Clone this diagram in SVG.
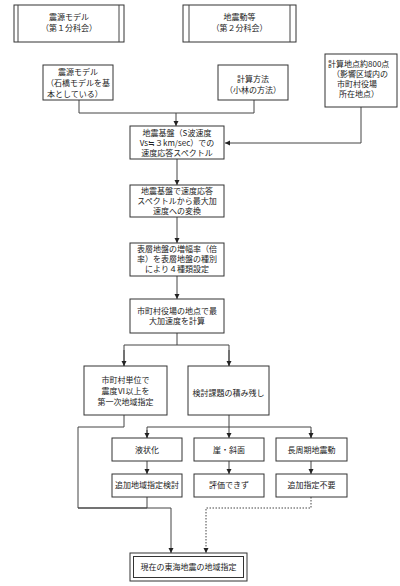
<svg xmlns="http://www.w3.org/2000/svg" width="400" height="586" viewBox="0 0 400 586">
<style>
.b{fill:#fff;stroke:#333;stroke-width:1}
.t{font-family:"Noto Sans CJK JP","Liberation Sans",sans-serif;font-size:8px;fill:#222;text-anchor:middle}
.s{text-anchor:start}
.c{fill:none;stroke:#444;stroke-width:1}
.d{stroke-dasharray:1.5,1.5}
.k{stroke-width:1.6}
</style>
<defs>
<marker id="a" markerWidth="6" markerHeight="6" refX="5" refY="3" orient="auto" markerUnits="userSpaceOnUse">
<path d="M0,0.5 L5,3 L0,5.5 z" fill="#222"/>
</marker>
</defs>
<rect width="400" height="586" fill="#fff"/>
<g id="connectors">
<polyline class="c" points="79,100 79,113 254,113 254,100"/>
<line class="c" x1="176" y1="113" x2="176" y2="126" marker-end="url(#a)"/>
<polyline class="c" points="361,107 361,143 225,143" marker-end="url(#a)"/>
<line class="c" x1="177" y1="159" x2="177" y2="185" marker-end="url(#a)"/>
<line class="c" x1="177" y1="217" x2="177" y2="243" marker-end="url(#a)"/>
<line class="c" x1="177" y1="276" x2="177" y2="299" marker-end="url(#a)"/>
<polyline class="c" points="177,333 177,345"/>
<polyline class="c" points="124,366 124,345 229,345 229,366"/>
<line class="c" x1="124" y1="350" x2="124" y2="366" marker-end="url(#a)"/>
<line class="c" x1="229" y1="350" x2="229" y2="366" marker-end="url(#a)"/>
<polyline class="c" points="229,415 229,427"/>
<polyline class="c" points="147,438 147,427 311,427 311,438"/>
<line class="c" x1="147" y1="430" x2="147" y2="438" marker-end="url(#a)"/>
<line class="c" x1="229" y1="427" x2="229" y2="438" marker-end="url(#a)"/>
<line class="c" x1="311" y1="430" x2="311" y2="438" marker-end="url(#a)"/>
<line class="c" x1="147" y1="461" x2="147" y2="474" marker-end="url(#a)"/>
<line class="c" x1="229" y1="461" x2="229" y2="474" marker-end="url(#a)"/>
<line class="c" x1="311" y1="461" x2="311" y2="474" marker-end="url(#a)"/>
<polyline class="c" points="124,415 124,427 78,427 78,508"/>
<polyline class="c k" points="78,508 147,508"/>
<polyline class="c" points="147,497 147,508 171,508 171,553" marker-end="url(#a)"/>
<polyline class="c d" points="311,497 311,508 206,508 206,553" marker-end="url(#a)"/>
</g>
<g id="n1">
<rect class="b" x="14" y="5" width="110" height="37"/>
<line class="c" x1="18" y1="5" x2="18" y2="42"/>
<line class="c" x1="119" y1="5" x2="119" y2="42"/>
<text class="t" x="69" y="20">震源モデル</text>
<text class="t" x="69" y="31">（第１分科会）</text>
</g>
<g id="n2">
<rect class="b" x="183" y="5" width="113" height="37"/>
<line class="c" x1="189" y1="5" x2="189" y2="42"/>
<line class="c" x1="290" y1="5" x2="290" y2="42"/>
<text class="t" x="239.5" y="20">地震動等</text>
<text class="t" x="239.5" y="31">（第２分科会）</text>
</g>
<g id="n3">
<rect class="b" x="43" y="65" width="70" height="35"/>
<text class="t" x="78" y="75">震源モデル</text>
<text class="t s" x="46" y="86">（石橋モデルを基</text>
<text class="t s" x="47" y="97">本としている）</text>
</g>
<g id="n4">
<rect class="b" x="218" y="65" width="70" height="35"/>
<text class="t" x="253" y="82">計算方法</text>
<text class="t" x="253" y="93">（小林の方法）</text>
</g>
<g id="n5">
<rect class="b" x="325" y="54" width="72" height="53"/>
<text class="t s" x="328" y="67">計算地点約800点</text>
<text class="t s" x="332" y="77">（影響区域内の</text>
<text class="t s" x="337" y="87">市町村役場</text>
<text class="t s" x="339" y="97">所在地点）</text>
</g>
<g id="n6">
<rect class="b" x="130" y="126" width="94" height="33"/>
<text class="t" x="177" y="136">地震基盤（S波速度</text>
<text class="t" x="177" y="146">Vs≒３km/sec）での</text>
<text class="t" x="177" y="156">速度応答スペクトル</text>
</g>
<g id="n7">
<rect class="b" x="130" y="185" width="94" height="32"/>
<text class="t" x="177" y="194">地震基盤で速度応答</text>
<text class="t" x="177" y="204">スペクトルから最大加</text>
<text class="t" x="177" y="214">速度への変換</text>
</g>
<g id="n8">
<rect class="b" x="130" y="243" width="94" height="33"/>
<text class="t" x="177" y="252">表層地盤の増幅率（倍</text>
<text class="t" x="177" y="262">率）を表層地盤の種別</text>
<text class="t" x="177" y="272">により４種類設定</text>
</g>
<g id="n9">
<rect class="b" x="130" y="299" width="94" height="34"/>
<text class="t" x="177" y="314">市町村役場の地点で最</text>
<text class="t" x="177" y="324">大加速度を計算</text>
</g>
<g id="n10">
<rect class="b" x="84" y="366" width="83" height="49"/>
<text class="t" x="125.5" y="383">市町村単位で</text>
<text class="t" x="125.5" y="394">震度Ⅵ以上を</text>
<text class="t" x="125.5" y="405">第一次地域指定</text>
</g>
<g id="n11">
<rect class="b" x="188" y="366" width="81" height="49"/>
<text class="t" x="228.5" y="396">検討課題の積み残し</text>
</g>
<g id="n12">
<rect class="b" x="112" y="438" width="70" height="23"/>
<text class="t" x="147" y="453">液状化</text>
</g>
<g id="n13">
<rect class="b" x="194" y="438" width="70" height="23"/>
<text class="t" x="229" y="453">崖・斜面</text>
</g>
<g id="n14">
<rect class="b" x="276" y="438" width="71" height="23"/>
<text class="t" x="311.5" y="453">長周期地震動</text>
</g>
<g id="n15">
<rect class="b" x="112" y="474" width="70" height="23"/>
<text class="t" x="147" y="488">追加地域指定検討</text>
</g>
<g id="n16">
<rect class="b" x="194" y="474" width="70" height="23"/>
<text class="t" x="229" y="488">評価できず</text>
</g>
<g id="n17">
<rect class="b" x="276" y="474" width="71" height="23"/>
<text class="t" x="311.5" y="488">追加指定不要</text>
</g>
<g id="n18">
<rect class="b" x="130" y="553" width="117" height="28"/>
<rect class="b" x="133.5" y="556.5" width="110" height="21"/>
<text class="t" x="188.5" y="570">現在の東海地震の地域指定</text>
</g>
</svg>
